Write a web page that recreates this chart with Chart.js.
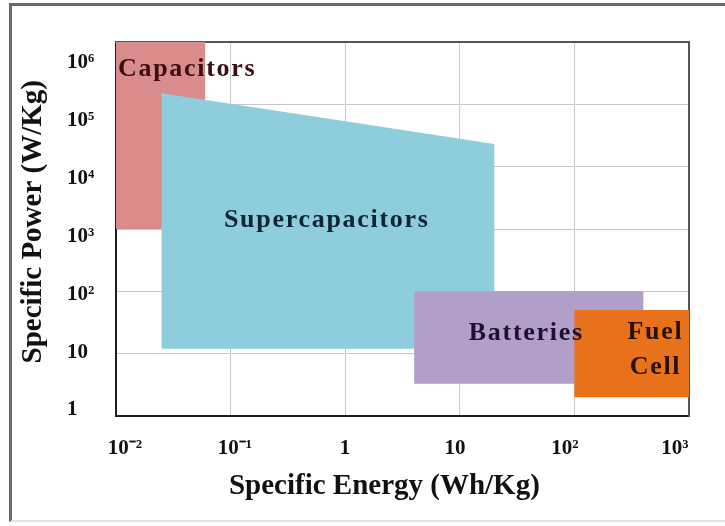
<!DOCTYPE html>
<html>
<head>
<meta charset="utf-8">
<script src="https://cdn.jsdelivr.net/npm/chart.js@4/dist/chart.umd.min.js"></script>
<style>
  html, body { margin: 0; padding: 0; background: #fff; }
  #wrap { position: relative; width: 725px; height: 526px; overflow: hidden; }
  #frame { position: absolute; left: 9px; top: 3px; width: 740px; height: 519px;
           border-left: 3px solid #6a6a6a; border-top: 3px solid #6a6a6a;
           border-bottom: 2px solid #e2e2e2; box-sizing: border-box; }
  canvas { position: absolute; left: 0; top: 0; }
</style>
</head>
<body>
<div id="wrap"><div id="frame"></div><canvas id="c" width="725" height="526"></canvas></div>
<script>
// Ragone plot: specific power vs specific energy of storage technologies
const categories = ['Capacitors', 'Supercapacitors', 'Batteries', 'Fuel Cell'];

// Region outlines (Wh/Kg, W/Kg), corner by corner
const capacitorEnergy = [0.01, 0.06, 0.06, 0.01];
const capacitorPower  = [1e3, 1e3, 1e6, 1e6];
const supercapEnergy  = [0.025, 20, 20, 0.025];
const supercapPower   = [12, 12, 2.3e4, 1.5e5];
const batteryEnergy   = [4, 400, 400, 4];
const batteryPower    = [3.3, 3.3, 100, 100];
const fuelCellEnergy  = [100, 1000, 1000, 100];
const fuelCellPower   = [2, 2, 50, 50];

// Axis ticks
const energyTicks = [0.01, 0.1, 1, 10, 100, 1000];
const energyTickLabels = ['10\u207B\u00B2', '10\u207B\u00B9', '1', '10', '10\u00B2', '10\u00B3'];
const powerTicks = [1, 10, 100, 1e3, 1e4, 1e5, 1e6];
const powerTickLabels = ['1', '10', '10\u00B2', '10\u00B3', '10\u2074', '10\u2075', '10\u2076'];

const SERIF = '"Liberation Serif", "Times New Roman", serif';

function outline(xs, ys) { return xs.map((v, i) => ({ x: v, y: ys[i] })); }

const regions = [
  { name: categories[3], pts: outline(fuelCellEnergy, fuelCellPower), color: '#e8711c' },
  { name: categories[2], pts: outline(batteryEnergy, batteryPower), color: '#b19fc9' },
  { name: categories[1], pts: outline(supercapEnergy, supercapPower), color: '#8ecddc' },
  { name: categories[0], pts: outline(capacitorEnergy, capacitorPower), color: '#da8b8b' }
];

// Region captions, placed in data coordinates
const captions = [
  { text: 'Capacitors', x: 0.0104, y: 3.7e5, align: 'left', color: '#3d0d12' },
  { text: 'Supercapacitors', x: 0.69, y: 1400, align: 'center', color: '#0f2535' },
  { text: 'Batteries', x: 38, y: 21, align: 'center', color: '#1a1230' },
  { text: 'Fuel', x: 510, y: 22, align: 'center', color: '#2a1005' },
  { text: 'Cell', x: 510, y: 6, align: 'center', color: '#2a1005' }
];

const captionPlugin = {
  id: 'captions',
  afterDraw(chart) {
    const { ctx, scales: { x, y } } = chart;
    ctx.save();
    ctx.font = 'bold 26px ' + SERIF;
    ctx.letterSpacing = '1.7px';
    ctx.textBaseline = 'middle';
    for (const c of captions) {
      ctx.fillStyle = c.color;
      ctx.textAlign = c.align;
      ctx.fillText(c.text, x.getPixelForValue(c.x), y.getPixelForValue(c.y));
    }
    ctx.restore();
  }
};

const fixedTicks = values => scale => { scale.ticks = values.map(v => ({ value: v })); };
// light veil over the fills along interior grid lines
const veil = ctx => {
  const n = ctx.chart.scales[ctx.scale.id].ticks.length;
  return (ctx.index === 0 || ctx.index === n - 1) ? 'rgba(0,0,0,0)' : 'rgba(255,255,255,0.55)';
};
const tickFont = { family: SERIF, size: 21, weight: 'bold' };
const titleFont = { family: SERIF, size: 29, weight: 'bold' };

new Chart(document.getElementById('c'), {
  type: 'scatter',
  data: {
    datasets: regions.map(r => ({
      label: r.name,
      data: r.pts,
      showLine: true,
      fill: 'shape',
      backgroundColor: r.color,
      borderColor: r.color,
      borderWidth: 0,
      pointRadius: 0,
      tension: 0
    }))
  },
  options: {
    responsive: false,
    animation: false,
    layout: { padding: { top: 42, right: 36, left: 67, bottom: 0 } },
    plugins: { legend: { display: false }, tooltip: { enabled: false } },
    scales: {
      // data axes: grid and frame
      x: {
        type: 'logarithmic', position: 'bottom', min: 0.01, max: 1000, weight: 0,
        afterBuildTicks: fixedTicks(energyTicks),
        afterFit: s => { s.height = 0; },
        grid: { color: '#858585', lineWidth: 1, drawTicks: false },
        border: { color: '#1e1e1e', width: 2 },
        ticks: { display: false }
      },
      y: {
        type: 'logarithmic', position: 'left', min: 1, max: 1e6, weight: 0,
        afterBuildTicks: fixedTicks(powerTicks),
        afterFit: s => { s.width = 0; },
        grid: { color: '#858585', lineWidth: 1, drawTicks: false },
        border: { color: '#1e1e1e', width: 2 },
        ticks: { display: false }
      },
      // label axes: tick text and titles
      xLabels: {
        type: 'logarithmic', position: 'bottom', min: 0.0083, max: 1340, weight: 1,
        afterBuildTicks: fixedTicks(energyTicks),
        afterFit: s => { s.height = 110; },
        grid: { display: false, drawTicks: false },
        border: { display: false },
        ticks: {
          autoSkip: false, maxRotation: 0, padding: 20, color: '#111', font: tickFont,
          callback: (v, i) => energyTickLabels[i]
        },
        title: {
          display: true, text: 'Specific Energy (Wh/Kg)     ', color: '#111',
          font: titleFont, padding: { top: 0, bottom: 22 }
        }
      },
      yLabels: {
        type: 'logarithmic', position: 'left', min: 0.7876, max: 2.307e6, weight: 1,
        afterBuildTicks: fixedTicks(powerTicks),
        afterFit: s => { s.width = 49; },
        grid: { display: false, drawTicks: false },
        border: { display: false },
        ticks: {
          autoSkip: false, crossAlign: 'far', color: '#111', font: tickFont,
          callback: (v, i) => powerTickLabels[i]
        },
        title: {
          display: true, text: '  Specific Power (W/Kg)', color: '#111',
          font: titleFont, padding: { top: -51, bottom: 0 }
        }
      },
      // frame top/right and the veil over the fills
      xTop: {
        type: 'logarithmic', position: 'top', min: 0.01, max: 1000, z: 1,
        afterBuildTicks: fixedTicks(energyTicks),
        afterFit: s => { s.height = 0; },
        grid: { color: veil, lineWidth: 1, drawTicks: false },
        border: { color: '#555', width: 2 },
        ticks: { display: false }
      },
      yRight: {
        type: 'logarithmic', position: 'right', min: 1, max: 1e6, z: 1,
        afterBuildTicks: fixedTicks(powerTicks),
        afterFit: s => { s.width = 0; },
        grid: { color: veil, lineWidth: 1, drawTicks: false },
        border: { color: '#555', width: 2 },
        ticks: { display: false }
      }
    }
  },
  plugins: [captionPlugin]
});
</script>
</body>
</html>
